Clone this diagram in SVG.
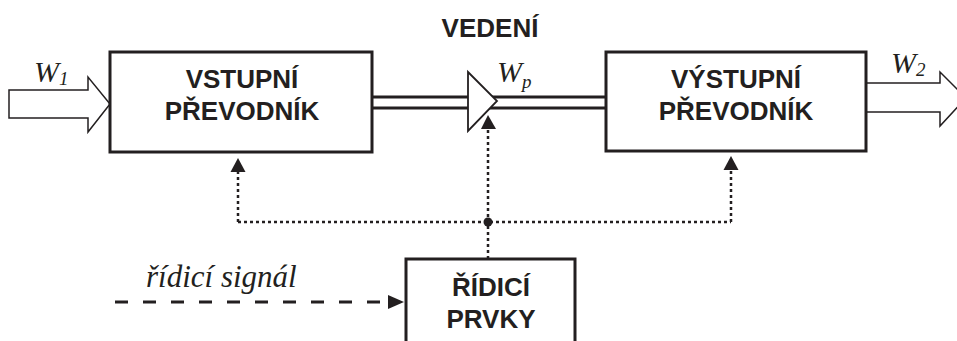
<svg xmlns="http://www.w3.org/2000/svg" width="957" height="341" viewBox="0 0 957 341">
<defs>
<style>
.box{fill:#fff;stroke:#231f20;stroke-width:3}
.lbl{font-family:"Liberation Sans",Arial,sans-serif;font-weight:bold;font-size:26px;fill:#231f20;text-anchor:middle}
.it{font-family:"Liberation Serif","Times New Roman",serif;font-style:italic;fill:#231f20}
.dot{fill:none;stroke:#231f20;stroke-width:2.5;stroke-dasharray:3 3}
.big{fill:#fff;stroke:#231f20;stroke-width:1.5;stroke-linejoin:miter}
</style>
</defs>
<rect width="957" height="341" fill="#fff"/>

<g id="connectors">
<!-- double line (VEDENÍ) -->
<line x1="372" y1="97" x2="607" y2="97" stroke="#231f20" stroke-width="3"/>
<line x1="372" y1="108" x2="607" y2="108" stroke="#231f20" stroke-width="3"/>
<!-- dotted control lines -->
<path class="dot" d="M488,259 L488,129"/>
<path d="M488,115 L481,129 L496,129 Z" fill="#231f20"/>
<path class="dot" d="M238,222 L731,222"/>
<path class="dot" d="M238,222 L238,172"/>
<path d="M238,158 L230.5,172 L245.5,172 Z" fill="#231f20"/>
<path class="dot" d="M731,222 L731,170"/>
<path d="M731,156 L723.5,170 L738.5,170 Z" fill="#231f20"/>
<circle cx="488" cy="222" r="4.5" fill="#231f20"/>
<!-- dashed control signal -->
<line x1="115" y1="302" x2="388" y2="302" stroke="#231f20" stroke-width="3" stroke-dasharray="13 15"/>
<path d="M404,302 L388,295 L388,309 Z" fill="#231f20"/>
<!-- W1 input arrow -->
<path class="big" d="M9,90 L88,90 L88,77 L110,104 L88,132 L88,118 L9,118 Z"/>
<!-- W2 output arrow -->
<path class="big" d="M866,83 L940,83 L940,72 L966,98 L940,126 L940,112 L866,112"/>
</g>

<g id="vedeni">
<path d="M468,72 L497,101 L468,131 Z" fill="#fff" stroke="#231f20" stroke-width="1.8"/>
<text class="lbl" x="490" y="37">VEDENÍ</text>
<text class="it" x="497" y="82" font-size="30">W<tspan font-size="19" dy="6">p</tspan></text>
</g>

<g id="vstupni">
<rect class="box" x="110" y="52" width="262" height="100"/>
<text class="lbl" x="242" y="88">VSTUPNÍ</text>
<text class="lbl" x="242" y="120">PŘEVODNÍK</text>
</g>

<g id="vystupni">
<rect class="box" x="606" y="52" width="260" height="99"/>
<text class="lbl" x="736" y="88">VÝSTUPNÍ</text>
<text class="lbl" x="736" y="120">PŘEVODNÍK</text>
</g>

<g id="ridici">
<rect class="box" x="406" y="259" width="169" height="110"/>
<text class="lbl" x="491" y="296">ŘÍDICÍ</text>
<text class="lbl" x="491" y="328">PRVKY</text>
</g>

<g id="labels">
<text class="it" x="34" y="82" font-size="30">W<tspan font-size="19" dy="3">1</tspan></text>
<text class="it" x="891" y="73" font-size="30">W<tspan font-size="19" dy="3">2</tspan></text>
<text class="it" x="146" y="287" font-size="31">řídicí signál</text>
</g>
</svg>
